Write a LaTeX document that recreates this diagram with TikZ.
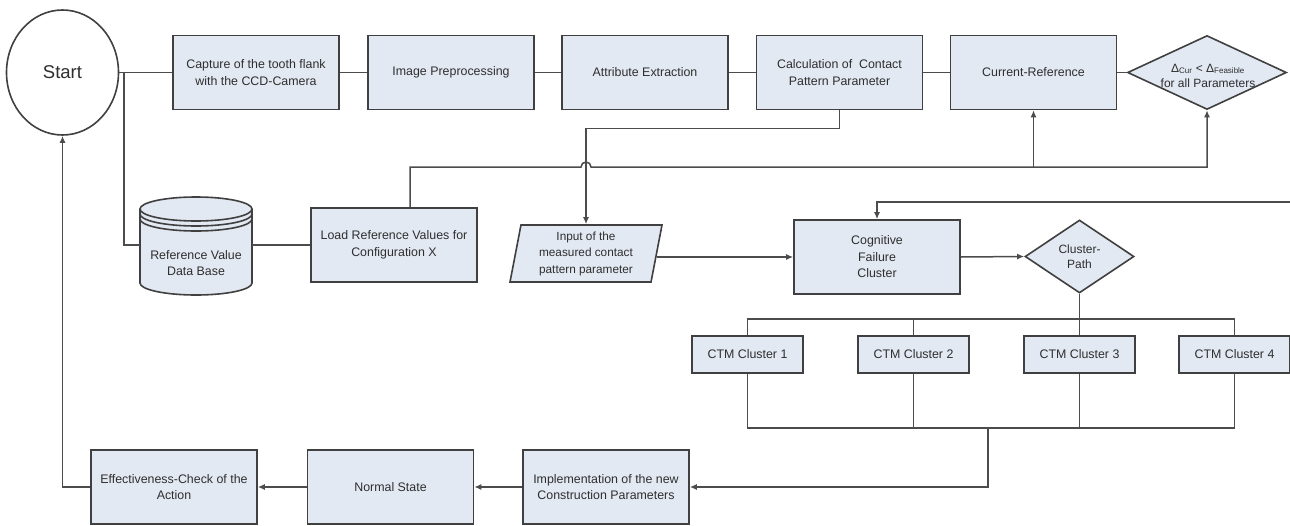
\documentclass[tikz,border=0pt]{standalone}
\usepackage{fontspec}
\setmainfont{Liberation Sans}
\usetikzlibrary{shapes.geometric,arrows.meta}
\definecolor{boxblue}{HTML}{E3E9F3}
\definecolor{edgegray}{HTML}{404040}
\definecolor{linegray}{HTML}{4C4C4C}
\definecolor{txtgray}{HTML}{2E2E2E}
\tikzset{
  boxline/.style={draw=edgegray, line width=1.6pt},
  procbox/.style={boxline, fill=boxblue, minimum width=166pt, minimum height=74pt,
    align=center, inner sep=2pt, text=txtgray, font=\fontsize{12.4}{16.5}\selectfont},
  ctmbox/.style={procbox, minimum width=111pt, minimum height=37pt},
  startnode/.style={boxline, ellipse, fill=white, minimum width=112pt, minimum height=125pt,
    text=txtgray, font=\fontsize{18.5}{20}\selectfont},
  decide/.style={boxline, diamond, fill=boxblue, inner sep=0pt, align=center,
    text=txtgray, font=\fontsize{12}{15}\selectfont},
  inbox/.style={boxline, trapezium, trapezium left angle=76, trapezium right angle=104,
    trapezium stretches body, fill=boxblue, minimum width=152pt, minimum height=57pt,
    inner sep=0pt, align=center, text=txtgray, font=\fontsize{11.8}{16.5}\selectfont},
  dbtext/.style={minimum width=112pt, align=center, text=txtgray,
    font=\fontsize{12.4}{16.5}\selectfont},
  conn/.style={draw=linegray, line width=1.5pt},
  arr/.style={conn, -{Latex[length=7pt,width=6pt]}}
}

\begin{document}
\begin{tikzpicture}[x=1pt,y=-1pt]
		%%%%% START %%%%%
		\useasboundingbox (0,0) rectangle (1290,525);
		\fill[white] (0,0) rectangle (1290,525);
		
		% top row
		\node[startnode] (start) at (62.5,72.5) {Start};
		\node[procbox] (capture) at (256,72.5) {Capture of the tooth flank\\with the CCD-Camera};
		\node[procbox] (preproc) at (451,72.5) {Image Preprocessing};
		\node[procbox] (attrib) at (645,72.5) {Attribute Extraction};
		\node[procbox] (calc) at (839.5,72.5) {Calculation of\ \ Contact\\Pattern Parameter};
		\node[procbox] (curref) at (1033.5,72.5) {Current-Reference};
		\node[decide, minimum width=159pt, minimum height=74pt] (check) at (1207,72.5) {};
		\node[text=txtgray, align=center, font=\fontsize{12}{15}\selectfont] at (1208,75.5)
			{Δ\textsubscript{Cur} < Δ\textsubscript{Feasible}\\for all Parameters};
		
		\draw[conn] (start.east) -- (capture.west);
		\draw[conn] (capture.east) -- (preproc.west);
		\draw[conn] (preproc.east) -- (attrib.west);
		\draw[conn] (attrib.east) -- (calc.west);
		\draw[conn] (calc.east) -- (curref.west);
		\draw[conn] (curref.east) -- (check.west);
		
		% data base drum
		\draw[boxline, fill=boxblue] (140,209) -- (140,283) arc (180:0:56 and 12) -- (252,209);
		\draw[boxline, fill=boxblue] (196,209) ellipse (56 and 12);
		\draw[boxline] (140,214) arc (180:0:56 and 12);
		\draw[boxline] (140,219) arc (180:0:56 and 12);
		\node[dbtext] (db) at (196,263) {Reference Value\\Data Base};
		
		% middle row
		\node[procbox] (loadref) at (394,245) {Load Reference Values for\\Configuration X};
		\node[inbox] (input) at (586,253.5) {Input of the\\measured contact\\pattern parameter};
		\node[procbox] (cogn) at (877,257) {Cognitive\\Failure\\Cluster};
		\node[decide, minimum width=109pt, minimum height=73pt] (cpath) at (1079.5,256.5) {Cluster-\\Path};
		
		\coordinate (split) at (124,72.5);
		\draw[conn] (split) |- (db.west |- loadref);
		\draw[conn] (db.east |- loadref) -- (loadref.west);
		
		\coordinate (hopy) at (410,167);
		\draw[arr] (loadref.north -| hopy) -- (hopy) -- (581,167) arc (180:360:5) -| (check.south);
		\draw[arr] (curref.south |- hopy) -- (curref.south);
		\draw[arr] (calc.south) -- ++(0,18) -| (input.north);
		
		\draw[arr] (input.east |- cogn) -- (cogn.west);
		\draw[arr] (cogn.east) -- (cpath.west);
		\coordinate (rightin) at (1290,202);
		\draw[arr] (rightin) -| (cogn.north);
		
		% failure clusters
		\node[ctmbox] (ctm1) at (747.5,354.5) {CTM Cluster 1};
		\node[ctmbox] (ctm2) at (913.5,354.5) {CTM Cluster 2};
		\node[ctmbox] (ctm3) at (1079.5,354.5) {CTM Cluster 3};
		\node[ctmbox] (ctm4) at (1234.5,354.5) {CTM Cluster 4};
		
		\coordinate (topbus) at (0,319);
		\coordinate (lowbus) at (0,428);
		\draw[conn] (cpath.south) -- (cpath.south |- topbus);
		\draw[conn] (ctm1.north) |- (topbus -| ctm4.north) -- (ctm4.north);
		\draw[conn] (ctm2.north) -- (ctm2.north |- topbus);
		\draw[conn] (ctm3.north) -- (ctm3.north |- topbus);
		\draw[conn] (ctm1.south) |- (lowbus -| ctm4.south) -- (ctm4.south);
		\draw[conn] (ctm2.south) -- (ctm2.south |- lowbus);
		\draw[conn] (ctm3.south) -- (ctm3.south |- lowbus);
		
		% bottom row
		\node[procbox] (impl) at (606,487) {Implementation of the new\\Construction Parameters};
		\node[procbox] (normal) at (390.5,487) {Normal State};
		\node[procbox] (effect) at (174,487) {Effectiveness-Check of the\\Action};
		
		\coordinate (merge) at (988,428);
		\draw[arr] (merge) |- (impl.east);
		\draw[arr] (impl.west) -- (normal.east);
		\draw[arr] (normal.west) -- (effect.east);
		\draw[arr] (effect.west) -| (start.south);
		
		%%%%% END %%%%%
\end{tikzpicture}
\end{document}
